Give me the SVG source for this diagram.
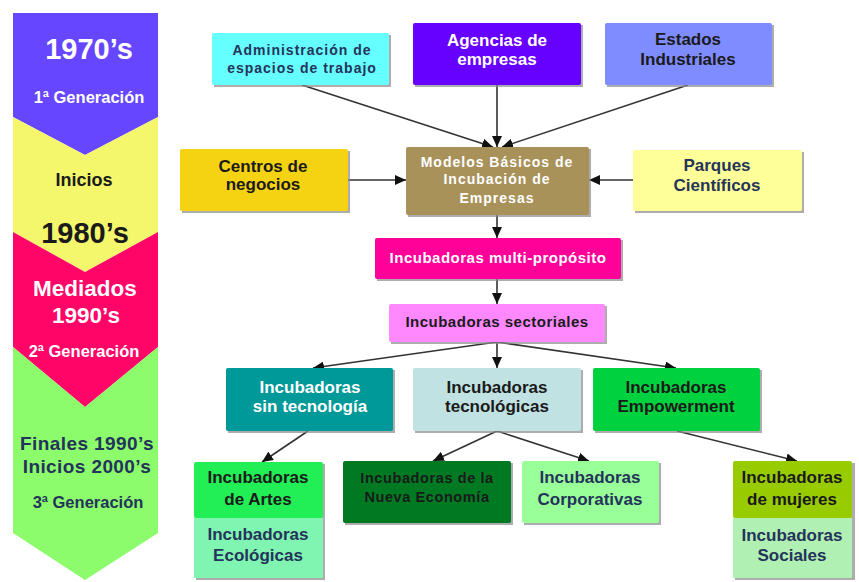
<svg xmlns="http://www.w3.org/2000/svg" width="859" height="582" viewBox="0 0 859 582">
<defs>
<marker id="ah" markerUnits="userSpaceOnUse" markerWidth="12" markerHeight="10" refX="11" refY="5" orient="auto">
<path d="M0,0 L11,5 L0,10 z" fill="#111"/>
</marker>
</defs>
<style>
text{font-family:"Liberation Sans",Arial,sans-serif;font-weight:bold;text-anchor:middle}
.sh{fill:#8a8a8a;opacity:0.7}
.w{fill:#ffffff}
.k{fill:#1a1a1a}
.n{fill:#24335a}
.f17{font-size:17px}
.sp{font-size:14px;letter-spacing:1px}
.conn line{stroke:#333;stroke-width:1.6;marker-end:url(#ah)}
</style>
<rect width="859" height="582" fill="#ffffff"/>

<g id="timeline">
<polygon points="13,13 158,13 158,117 85,155 13,117" fill="#6647ff"/>
<polygon points="13,117 85,155 158,117 158,232 85,272 13,232" fill="#f4f76c"/>
<polygon points="13,232 85,272 158,232 158,347 85,407 13,347" fill="#ff0568"/>
<polygon points="13,347 85,407 158,347 158,533 85,580 13,533" fill="#8cfc6c"/>
<text x="89" y="59" class="w" style="font-size:29px">1970’s</text>
<text x="89" y="103" class="w" style="font-size:16.5px">1ª Generación</text>
<text x="84" y="186" class="k" style="font-size:18px">Inicios</text>
<text x="85" y="243" class="k" style="font-size:29px">1980’s</text>
<text x="85" y="296" class="w" style="font-size:22.5px">Mediados</text>
<text x="86" y="323" class="w" style="font-size:22.5px">1990’s</text>
<text x="84" y="357" class="w" style="font-size:16.5px">2ª Generación</text>
<text x="87" y="450" class="n" style="font-size:19px;letter-spacing:0.4px">Finales 1990’s</text>
<text x="87" y="473" class="n" style="font-size:19px;letter-spacing:0.4px">Inicios 2000’s</text>
<text x="88" y="508" class="n" style="font-size:16.5px">3ª Generación</text>
</g>

<g class="conn" id="connectors">
<line x1="302" y1="85" x2="493" y2="147"/>
<line x1="497" y1="85" x2="497" y2="147"/>
<line x1="688" y1="85" x2="502" y2="147"/>
<line x1="348" y1="180" x2="406" y2="180"/>
<line x1="633" y1="180" x2="589" y2="180"/>
<line x1="497" y1="215" x2="497" y2="238"/>
<line x1="497" y1="279" x2="497" y2="304"/>
<line x1="497" y1="342" x2="313" y2="368"/>
<line x1="497" y1="342" x2="497" y2="368"/>
<line x1="497" y1="342" x2="676" y2="368"/>
<line x1="308" y1="431" x2="262" y2="462"/>
<line x1="497" y1="431" x2="433" y2="461"/>
<line x1="497" y1="431" x2="589" y2="461"/>
<line x1="677" y1="431" x2="797" y2="461"/>
</g>

<g id="admin">
<rect x="214" y="35" width="177" height="52" class="sh"/>
<rect x="212" y="33" width="177" height="52" rx="2" fill="#66ffff"/>
<text x="302" y="55" class="n sp">Administración de</text>
<text x="302" y="73" class="n sp">espacios de trabajo</text>
</g>

<g id="agencias">
<rect x="415" y="25" width="168" height="62" class="sh"/>
<rect x="413" y="23" width="168" height="62" rx="2" fill="#6600ff"/>
<text x="497" y="46" class="w f17">Agencias de</text>
<text x="497" y="65" class="w f17">empresas</text>
</g>

<g id="estados">
<rect x="607" y="25" width="167" height="62" class="sh"/>
<rect x="605" y="23" width="167" height="62" rx="2" fill="#7f8cff"/>
<text x="688" y="45" class="k f17">Estados</text>
<text x="688" y="65" class="k f17">Industriales</text>
</g>

<g id="centros">
<rect x="182" y="151" width="168" height="62" class="sh"/>
<rect x="180" y="149" width="168" height="62" rx="2" fill="#f5d212"/>
<text x="263" y="172" class="k f17">Centros de</text>
<text x="263" y="190" class="k f17">negocios</text>
</g>

<g id="modelos">
<rect x="408" y="149" width="183" height="68" class="sh"/>
<rect x="406" y="147" width="183" height="68" rx="2" fill="#a8925a"/>
<text x="497" y="167" class="w sp">Modelos Básicos de</text>
<text x="497" y="184" class="w sp">Incubación de</text>
<text x="497" y="203" class="w sp">Empresas</text>
</g>

<g id="parques">
<rect x="635" y="152" width="169" height="61" class="sh"/>
<rect x="633" y="150" width="169" height="61" rx="2" fill="#ffff99"/>
<text x="717" y="171" class="n f17">Parques</text>
<text x="717" y="191" class="n f17">Científicos</text>
</g>

<g id="multiproposito">
<rect x="377" y="240" width="246" height="41" class="sh"/>
<rect x="375" y="238" width="246" height="41" rx="2" fill="#ff0099"/>
<text x="498" y="263" class="w" style="font-size:15px;letter-spacing:0.5px">Incubadoras multi-propósito</text>
</g>

<g id="sectoriales">
<rect x="391" y="306" width="216" height="38" class="sh"/>
<rect x="389" y="304" width="216" height="38" rx="2" fill="#ff88ff"/>
<text x="497" y="327" class="k" style="font-size:15px;letter-spacing:0.5px">Incubadoras sectoriales</text>
</g>

<g id="sintecnologia">
<rect x="228" y="370" width="167" height="63" class="sh"/>
<rect x="226" y="368" width="167" height="63" rx="2" fill="#009999"/>
<text x="310" y="393" class="w f17">Incubadoras</text>
<text x="310" y="412" class="w f17">sin tecnología</text>
</g>

<g id="tecnologicas">
<rect x="415" y="370" width="168" height="63" class="sh"/>
<rect x="413" y="368" width="168" height="63" rx="2" fill="#c0e2e2"/>
<text x="497" y="393" class="k f17">Incubadoras</text>
<text x="497" y="412" class="k f17">tecnológicas</text>
</g>

<g id="empowerment">
<rect x="595" y="370" width="167" height="63" class="sh"/>
<rect x="593" y="368" width="167" height="63" rx="2" fill="#00d13f"/>
<text x="676" y="393" class="k f17">Incubadoras</text>
<text x="676" y="412" class="k f17">Empowerment</text>
</g>

<g id="artes">
<rect x="196" y="464" width="129" height="116" class="sh"/>
<rect x="194" y="462" width="129" height="56" rx="2" fill="#22ee55"/>
<text x="258" y="483" class="k f17">Incubadoras</text>
<text x="258" y="505" class="k f17">de Artes</text>
</g>

<g id="ecologicas">
<rect x="194" y="518" width="129" height="60" fill="#80f5b2"/>
<text x="258" y="540" class="n f17">Incubadoras</text>
<text x="258" y="561" class="n f17">Ecológicas</text>
</g>

<g id="nuevaeconomia">
<rect x="345" y="463" width="168" height="62" class="sh"/>
<rect x="343" y="461" width="168" height="62" rx="2" fill="#007a22"/>
<text x="427" y="483" class="k" style="font-size:14.5px;letter-spacing:0.6px">Incubadoras de la</text>
<text x="427" y="502" class="k" style="font-size:14.5px;letter-spacing:0.6px">Nueva Economía</text>
</g>

<g id="corporativas">
<rect x="524" y="463" width="137" height="62" class="sh"/>
<rect x="522" y="461" width="137" height="62" rx="2" fill="#99ff99"/>
<text x="590" y="483" class="n f17">Incubadoras</text>
<text x="590" y="505" class="n f17">Corporativas</text>
</g>

<g id="mujeres">
<rect x="735" y="463" width="120" height="117" class="sh"/>
<rect x="733" y="461" width="119" height="57" rx="2" fill="#99cc00"/>
<text x="792" y="483" class="k f17">Incubadoras</text>
<text x="792" y="505" class="k f17">de mujeres</text>
</g>

<g id="sociales">
<rect x="733" y="518" width="119" height="60" fill="#b0f0b2"/>
<text x="792" y="541" class="n f17">Incubadoras</text>
<text x="792" y="561" class="n f17">Sociales</text>
</g>
</svg>
